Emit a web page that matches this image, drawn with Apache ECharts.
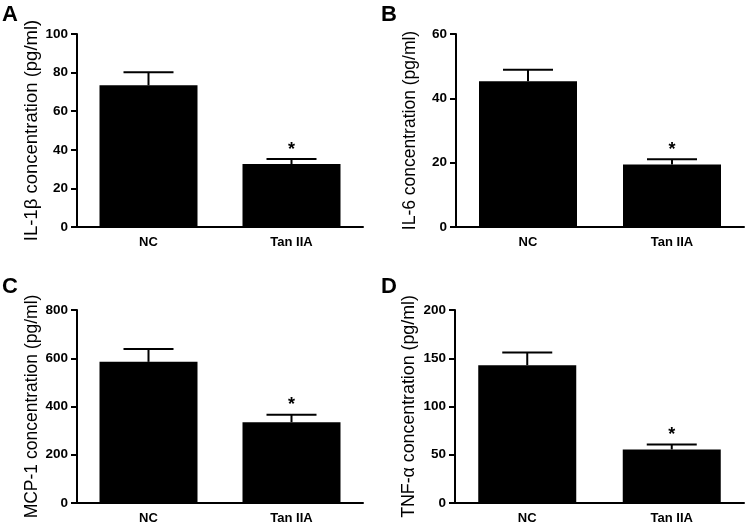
<!DOCTYPE html>
<html>
<head>
<meta charset="utf-8">
<script src="https://cdn.jsdelivr.net/npm/echarts@6/dist/echarts.min.js"></script>
<style>html,body{margin:0;padding:0;background:#fff}#c{width:746px;height:524px}</style>
</head>
<body>
<div id="c"></div>
<script>
// Data
var categories = ['NC', 'Tan IIA'];
var panelLetters = ['A', 'B', 'C', 'D'];
var yNames = ['IL-1\u03b2 concentration (pg/ml)', 'IL-6 concentration (pg/ml)', 'MCP-1 concentration (pg/ml)', 'TNF-\u03b1 concentration (pg/ml)'];
var yMax = [100, 60, 800, 200];
var yInterval = [20, 20, 200, 50];
var meansA = [73.4, 32.6];
var semA = [6.8, 2.6];
var meansB = [45.3, 19.4];
var semB = [3.6, 1.7];
var meansC = [585, 335];
var semC = [53, 31];
var meansD = [142.8, 55.5];
var semD = [13.2, 5.2];
var significance = ['', '*'];

var means = [meansA, meansB, meansC, meansD];
var sems = [semA, semB, semC, semD];

var grids = [
  {left: 77, top: 34, width: 286, height: 193, outerBoundsMode: 'none'},
  {left: 456, top: 34, width: 288, height: 193, outerBoundsMode: 'none'},
  {left: 77, top: 310, width: 286, height: 193, outerBoundsMode: 'none'},
  {left: 455, top: 310, width: 289, height: 193, outerBoundsMode: 'none'}
];
var letterPos = [[2, 4], [381, 4], [2, 276], [381, 276]];
var nameSizes = [18.5, 17.5, 17.5, 17.8];
var nameGaps = [36, 37, 36, 37];

var FONT = 'Liberation Sans, Arial, sans-serif';
var option = {
  backgroundColor: '#fff',
  animation: false,
  title: panelLetters.map(function (l, i) {
    return {text: l, left: letterPos[i][0], top: letterPos[i][1], padding: 0,
      textStyle: {fontFamily: FONT, fontWeight: 'bold', fontSize: 22, color: '#000'}};
  }),
  grid: grids,
  xAxis: grids.map(function (g, i) {
    return {
      type: 'category', gridIndex: i, data: categories,
      axisLine: {lineStyle: {color: '#000', width: 2}},
      axisTick: {alignWithLabel: true, length: 5, lineStyle: {color: '#000', width: 2}},
      axisLabel: {fontFamily: FONT, fontWeight: 'bold', fontSize: 13, color: '#000', margin: 9}
    };
  }),
  yAxis: grids.map(function (g, i) {
    return {
      type: 'value', gridIndex: i, min: 0, max: yMax[i], interval: yInterval[i],
      name: yNames[i], nameLocation: 'middle', nameGap: nameGaps[i],
      nameTextStyle: {fontFamily: FONT, fontSize: nameSizes[i], color: '#000'},
      axisLine: {show: true, lineStyle: {color: '#000', width: 2}},
      axisTick: {show: true, length: 6, lineStyle: {color: '#000', width: 2}},
      axisLabel: {fontFamily: FONT, fontWeight: 'bold', fontSize: 13.5, color: '#000', margin: 9},
      splitLine: {show: false}
    };
  }),
  series: []
};

means.forEach(function (m, i) {
  option.series.push({
    type: 'bar', xAxisIndex: i, yAxisIndex: i, data: m, barWidth: 98,
    itemStyle: {color: '#000'}, z: 2
  });
  option.series.push({
    type: 'custom', xAxisIndex: i, yAxisIndex: i, z: 3,
    data: m.map(function (v, j) { return [j, v, v + sems[i][j]]; }),
    renderItem: function (params, api) {
      var x = api.value(0);
      var base = api.coord([x, api.value(1)]);
      var top = api.coord([x, api.value(2)]);
      var children = [
        {type: 'line', shape: {x1: base[0], y1: base[1], x2: top[0], y2: top[1]}, style: {stroke: '#000', lineWidth: 2}},
        {type: 'line', shape: {x1: top[0] - 25, y1: top[1], x2: top[0] + 25, y2: top[1]}, style: {stroke: '#000', lineWidth: 2}}
      ];
      var s = significance[params.dataIndex];
      if (s) {
        children.push({type: 'text', x: top[0], y: top[1] - 0.5,
          style: {text: s, fill: '#000', font: 'bold 18px ' + FONT, textAlign: 'center', textVerticalAlign: 'bottom'}});
      }
      return {type: 'group', children: children};
    }
  });
});

var chart = echarts.init(document.getElementById('c'), null, {renderer: 'canvas'});
chart.setOption(option);
</script>
</body>
</html>
